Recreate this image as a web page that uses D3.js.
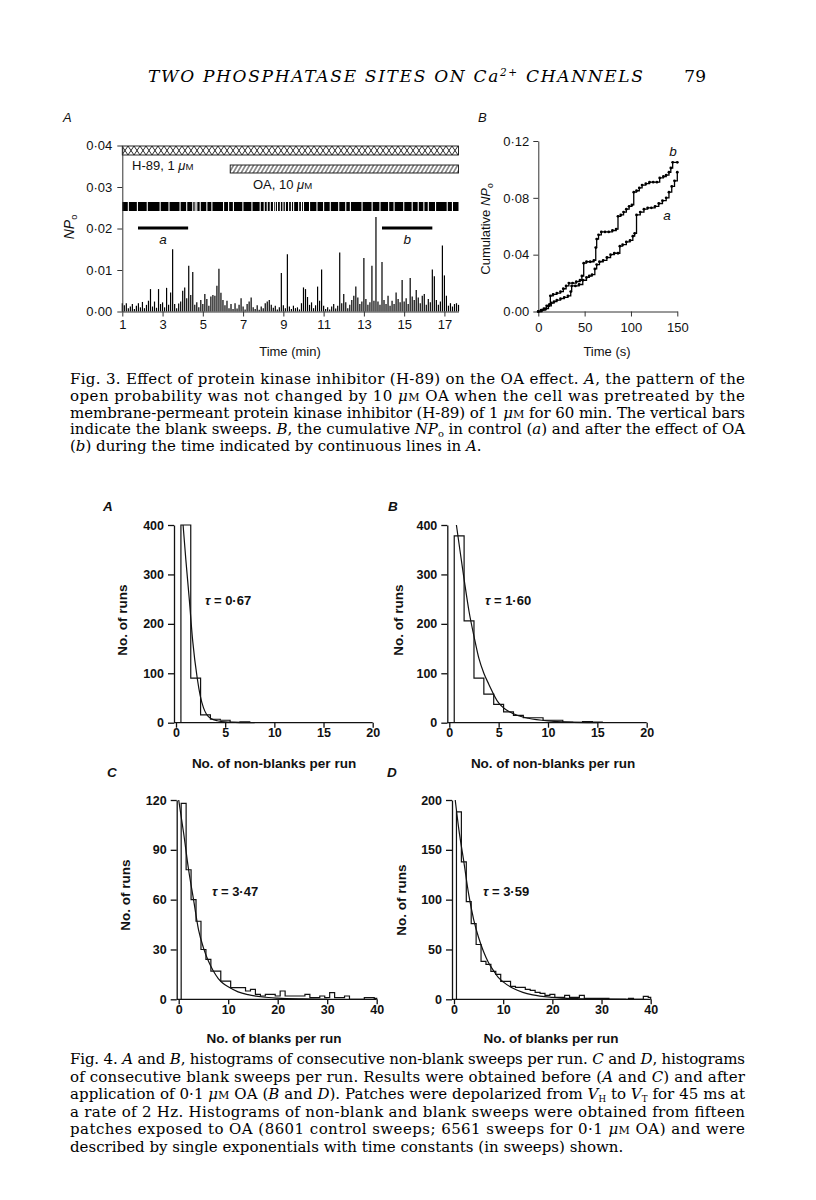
<!DOCTYPE html>
<html><head><meta charset="utf-8">
<script src="https://cdn.jsdelivr.net/npm/d3@7/dist/d3.min.js"></script>
<style>html,body{margin:0;padding:0;background:#fff}svg{display:block}</style>
</head><body>
<svg id="page" width="816" height="1200"></svg>
<script>
// ================= DATA =================
// Fig. 3A : NPo per 0.1-min bin (×0.001), starting at 1.0 min
const npoTimeStart = 1.0;
const npoTimeStep = 0.1;
const npoMilli = [
 2.0,1.5,2.0,0.8,1.2,1.8,0.6,1.4,2.0,1.0,
 2.3,0.8,1.6,2.6,5.4,1.2,2.4,0.9,5.4,1.8,
 2.2,1.0,5.7,1.6,4.6,15.0,1.8,0.8,1.9,2.4,
 5.0,5.8,3.2,11.0,4.0,9.5,1.6,2.2,1.0,2.8,
 1.8,4.2,3.0,1.4,3.6,4.0,3.8,6.2,10.3,4.5,
 2.8,1.5,2.6,0.8,1.8,0.6,2.0,0.7,1.6,3.2,
 1.2,0.5,1.8,2.4,3.4,1.0,0.6,1.5,0.4,1.2,
 0.8,2.0,2.4,2.8,1.6,0.9,1.4,0.5,1.0,9.3,
 1.5,0.8,13.8,1.2,0.6,1.4,0.8,1.0,0.5,2.0,
 5.8,5.4,3.5,1.6,2.2,0.8,1.5,6.0,2.6,10.1,
 1.4,0.6,1.0,0.5,1.2,1.8,0.7,1.4,14.2,2.0,
 4.2,2.2,0.8,1.6,2.8,3.8,6.0,3.4,1.8,2.4,
 12.9,3.0,1.6,2.2,11.0,2.6,22.8,2.4,1.6,11.9,
 2.8,1.8,3.8,1.4,2.6,1.8,4.6,3.0,2.2,7.6,
 2.4,3.2,1.8,8.1,3.6,2.8,5.2,3.4,2.0,3.8,
 4.2,1.6,3.0,2.2,10.1,8.5,2.8,1.6,2.4,15.9,
 8.7,3.8,1.4,2.0,1.2,1.8,2.0,1.6
];
// non-blank sweep gaps in the blank-sweep band (min)
const blankGapTimes = [1.30,1.75,2.24,2.88,3.32,3.87,4.20,4.50,4.62,4.70,4.87,5.20,5.45,
 6.03,6.28,6.52,6.99,7.44,7.85,8.05,8.20,8.35,8.51,8.60,8.71,8.85,8.98,9.10,9.26,9.40,9.51,
 9.76,9.90,10.0,10.30,10.67,11.0,11.33,11.75,12.10,12.33,12.91,13.41,13.80,14.23,14.50,
 14.98,15.40,15.70,15.98,16.20,16.56,17.14,17.40];
const h89Span = [1.0, 17.7];
const oaSpan = [6.36, 17.7];
const periodA = [1.78, 4.27];
const periodB = [13.9, 16.4];
const fig3aXTicks = [1,3,5,7,9,11,13,15,17];
const fig3aYTicks = [0,10,20,30,40];
const fig3aYLabels = ["0·00","0·01","0·02","0·03","0·04"];

// Fig. 3B : cumulative NPo
const cumTimeA = [0,4,8,11,14,17,20,24,28,32,35,36,40,44,48,52,55,58,61,63,66,70,74,78,82,86,88,91,95,99,102,104,106,110,114,118,122,126,130,134,138,141,144,147,150];
const cumNPoA  = [0,0.001,0.002,0.004,0.006,0.007,0.008,0.009,0.010,0.011,0.014,0.018,0.018,0.019,0.022,0.024,0.025,0.026,0.030,0.033,0.035,0.036,0.038,0.040,0.041,0.041,0.046,0.047,0.049,0.050,0.053,0.055,0.068,0.070,0.072,0.073,0.073,0.074,0.076,0.078,0.080,0.084,0.088,0.092,0.098];
const cumTimeB = [0,3,6,9,12,13,16,20,24,27,30,33,37,41,45,47,49,52,56,60,62,63,65,68,72,76,80,84,86,89,92,95,98,101,103,106,109,112,116,120,124,128,131,135,138,141,143,145,150];
const cumNPoB  = [0,0.001,0.002,0.004,0.005,0.011,0.012,0.013,0.014,0.016,0.018,0.020,0.020,0.021,0.022,0.025,0.034,0.035,0.035,0.036,0.045,0.051,0.054,0.056,0.056,0.056,0.057,0.058,0.067,0.068,0.070,0.072,0.074,0.075,0.084,0.085,0.087,0.089,0.090,0.091,0.091,0.091,0.094,0.095,0.096,0.098,0.101,0.105,0.105];
const fig3bXTicks = [0,50,100,150];
const fig3bYTicks = [0,0.04,0.08,0.12];
const fig3bYLabels = ["0·00","0·04","0·08","0·12"];

// Fig. 4 histograms (bins centred on 1,2,3,...)
const histA = [400,90,16,7,5,0.5,1.5];
const histB = [378,206,90,58,37,22,15,10,10,5,5,1,0.5,2,1];
const histC = [118,78,60,47,30,24,17,17,11,11,7,7,7,5,6,3,2,3,3,2,5,2,2,2,2,3,1,1,2,1,4,1,1,2,0,0,0,1,1,0.5];
const histD = [188,138,98,76,55,38,35,28,25,18,18,13,12,12,10,9,7,6,4,5,2,2,4,2,2,4,1,1,1,1,1,0,0,0,0,1,0,0,3,2];
// fitted single-exponential curves
const fitAX = [0.72,1.0,1.35,1.7,2.16,2.45,2.8,3.1,3.6,4.2,5.0,6.5,8.0];
const fitAY = [400,330,250,165,90,56,30,17,8,4,1.5,0.3,0];
const fitBX = [0.72,1.0,1.5,2.0,2.5,3.0,3.5,4.0,5.0,5.5,6.0,7.0,8.0,10,12,15];
const fitBY = [400,360,290,225,175,130,100,78,40,30,23,14,9,3.5,1,0];
const fitCX = [0,1,2,3,4,5,6,7,8,9,10,12,14,17,20,25,30];
const fitCY = [120,100,78,60,42,31,23,17,12.5,9.5,7.5,4.5,2.8,1.4,0.7,0.2,0];
const fitDX = [0.25,1,2,3,4,5,6,7,8,9,10,12,14,16,20,25,30,35];
const fitDY = [200,170,138,105,80,62,48,37,29,22,17.5,11,7,4.5,2,0.7,0.2,0];
const tauLabels = ["0·67","1·60","3·47","3·59"];
const ticks4XNonBlank = [0,5,10,15,20];
const ticks4XBlank = [0,10,20,30,40];
const ticks4YAB = [0,100,200,300,400];
const ticks4YC = [0,30,60,90,120];
const ticks4YD = [0,50,100,150,200];

// ================= DRAW =================
const svg = d3.select("#page");
svg.append("rect").attr("width",816).attr("height",1200).attr("fill","#fff");
const SANS = "'Liberation Sans', Arial, Helvetica, sans-serif";
const SERIF = "'DejaVu Serif', 'Liberation Serif', serif";
const INK = "#111";

function rich(parent, x, y, segs, o) {
  const size = o.size;
  const t = parent.append("text").attr("x", x).attr("y", y)
    .attr("font-family", o.family).attr("font-size", size).attr("fill", o.fill || INK);
  if (o.weight) t.attr("font-weight", o.weight);
  if (o.italic) t.attr("font-style", "italic");
  if (o.anchor) t.attr("text-anchor", o.anchor);
  if (o.transform) t.attr("transform", o.transform);
  let shift = 0;
  segs.forEach(s => {
    const style = typeof s === "string" ? "" : s[0];
    const txt = typeof s === "string" ? s : s[1];
    const ts = t.append("tspan").text(txt);
    let want = 0;
    if (style.indexOf("i") >= 0) ts.attr("font-style", "italic");
    if (style.indexOf("sc") >= 0) ts.attr("font-size", size * 0.74);
    if (style.indexOf("sub") >= 0) { want = size * 0.2; ts.attr("font-size", size * (style.indexOf("sc") >= 0 ? 0.58 : 0.66)); }
    if (style.indexOf("sup") >= 0) { want = -size * 0.38; ts.attr("font-size", size * 0.62); }
    if (want !== shift) { ts.attr("dy", want - shift); shift = want; }
  });
  if (o.len) t.attr("textLength", o.len).attr("lengthAdjust", "spacing");
  return t;
}

// ---------- Header ----------
rich(svg, 148, 82, ["TWO PHOSPHATASE SITES ON Ca", ["sup","2+"], " CHANNELS"],
  {family: SERIF, size: 17, italic: true, len: 495, fill: "#000"});
rich(svg, 706, 82, ["79"], {family: SERIF, size: 17, anchor: "end", fill: "#000"});

// ---------- Fig 3A ----------
const defs = svg.append("defs");
const pH = defs.append("pattern").attr("id","cross").attr("patternUnits","userSpaceOnUse")
  .attr("width",6).attr("height",9).attr("x",122).attr("y",146);
pH.append("path").attr("d","M0,0L6,9M6,0L0,9").attr("stroke",INK).attr("stroke-width",0.9);
const pO = defs.append("pattern").attr("id","diag").attr("patternUnits","userSpaceOnUse")
  .attr("width",4).attr("height",8).attr("patternTransform","skewX(-30)");
pO.append("line").attr("x1",1).attr("y1",0).attr("x2",1).attr("y2",8).attr("stroke",INK).attr("stroke-width",1);

const g3a = svg.append("g");
const xA = d3.scaleLinear().domain([1, 17.7]).range([122.3, 458.5]);
const yA = d3.scaleLinear().domain([0, 40]).range([311.5, 145.5]);

rich(g3a, 63, 122, ["A"], {family: SANS, size: 13, italic: true});

// drug bars
g3a.append("rect").attr("x", xA(h89Span[0])).attr("y", 146).attr("width", xA(h89Span[1]) - xA(h89Span[0])).attr("height", 9)
  .attr("fill","url(#cross)").attr("stroke",INK).attr("stroke-width",0.9);
rich(g3a, 132, 170, ["H-89, 1 ", ["i","μ"], ["sc","M"]], {family: SANS, size: 13});
g3a.append("rect").attr("x", xA(oaSpan[0])).attr("y", 165).attr("width", xA(oaSpan[1]) - xA(oaSpan[0])).attr("height", 8)
  .attr("fill","url(#diag)").attr("stroke",INK).attr("stroke-width",0.9);
rich(g3a, 253, 189, ["OA, 10 ", ["i","μ"], ["sc","M"]], {family: SANS, size: 13});

// blank sweeps band
g3a.append("rect").attr("x", xA(h89Span[0])).attr("y", 202).attr("width", xA(h89Span[1]) - xA(h89Span[0])).attr("height", 9).attr("fill", "#000");
g3a.selectAll("line.gap").data(blankGapTimes).join("line").attr("class","gap")
  .attr("x1", d => xA(d)).attr("x2", d => xA(d)).attr("y1", 202).attr("y2", 211)
  .attr("stroke","#fff").attr("stroke-width",1.1);

// analysis periods
[[periodA,"a"],[periodB,"b"]].forEach(([p, lab]) => {
  g3a.append("line").attr("x1", xA(p[0])).attr("x2", xA(p[1])).attr("y1", 228).attr("y2", 228)
    .attr("stroke", "#000").attr("stroke-width", 3);
  rich(g3a, (xA(p[0]) + xA(p[1])) / 2, 244, [lab], {family: SANS, size: 13.5, italic: true, anchor: "middle"});
});

// spikes
g3a.selectAll("line.spike").data(npoMilli).join("line").attr("class","spike")
  .attr("x1", (d,i) => xA(npoTimeStart + i * npoTimeStep)).attr("x2", (d,i) => xA(npoTimeStart + i * npoTimeStep))
  .attr("y1", yA(0)).attr("y2", d => yA(d)).attr("stroke", "#000").attr("stroke-width", 1.2);

// axes
const ax3aY = g3a.append("g").attr("transform", `translate(${xA(1)},0)`)
  .call(d3.axisLeft(yA).tickValues(fig3aYTicks).tickFormat((d,i) => fig3aYLabels[i]).tickSize(5).tickPadding(5).tickSizeOuter(0));
const ax3aX = g3a.append("g").attr("transform", `translate(0,${yA(0)})`)
  .call(d3.axisBottom(xA).tickValues(fig3aXTicks).tickSize(5).tickSizeOuter(0));
[ax3aY, ax3aX].forEach(a => {
  a.selectAll("path,line").attr("stroke", "#333").attr("stroke-width", 1);
  a.selectAll("text").attr("font-family", SANS).attr("font-size", 13).attr("fill", INK);
});
ax3aX.selectAll("text").attr("y", 17).attr("dy", null);
rich(g3a, 290, 356, ["Time (min)"], {family: SANS, size: 13, anchor: "middle"});
rich(g3a, 0, 0, [["i","NP"], ["sub","o"]], {family: SANS, size: 14, anchor: "middle", transform: "translate(74,227) rotate(-90)"});

// ---------- Fig 3B ----------
const g3b = svg.append("g");
const xB = d3.scaleLinear().domain([0,150]).range([538.3, 677.3]);
const yB = d3.scaleLinear().domain([0,0.12]).range([311.5, 141]);
rich(g3b, 478, 122, ["B"], {family: SANS, size: 13, italic: true});
const ax3bY = g3b.append("g").attr("transform", `translate(${xB(0)},0)`)
  .call(d3.axisLeft(yB).tickValues(fig3bYTicks).tickFormat((d,i) => fig3bYLabels[i]).tickSize(5).tickPadding(4).tickSizeOuter(0));
const ax3bX = g3b.append("g").attr("transform", `translate(0,${yB(0)})`)
  .call(d3.axisBottom(xB).tickValues(fig3bXTicks).tickSize(5).tickSizeOuter(0));
[ax3bY, ax3bX].forEach(a => {
  a.selectAll("path,line").attr("stroke", "#333").attr("stroke-width", 1);
  a.selectAll("text").attr("font-family", SANS).attr("font-size", 13).attr("fill", INK);
});
ax3bX.selectAll("text").attr("y", 20).attr("dy", null);
rich(g3b, 607, 356, ["Time (s)"], {family: SANS, size: 13, anchor: "middle"});
rich(g3b, 0, 0, ["Cumulative ", ["i","NP"], ["sub","o"]], {family: SANS, size: 13, anchor: "middle", transform: "translate(490,229) rotate(-90)"});
const stepLine = d3.line().curve(d3.curveStepAfter).x(d => xB(d[0])).y(d => yB(d[1]));
[[cumTimeA, cumNPoA],[cumTimeB, cumNPoB]].forEach(([ts, vs]) => {
  const pts = ts.map((t,i) => [t, vs[i]]);
  g3b.append("path").attr("d", stepLine(pts)).attr("fill","none").attr("stroke","#000").attr("stroke-width",1.3);
  g3b.selectAll(null).data(pts).join("circle").attr("cx", d => xB(d[0])).attr("cy", d => yB(d[1])).attr("r", 1.4).attr("fill", "#000");
});
rich(g3b, 673, 156, ["b"], {family: SANS, size: 13.5, italic: true, anchor: "middle"});
rich(g3b, 667, 220, ["a"], {family: SANS, size: 13.5, italic: true, anchor: "middle"});

// ---------- Fig 3 caption ----------
const fig3Caption = [
  ["Fig. 3. Effect of protein kinase inhibitor (H-89) on the OA effect. ", ["i","A"], ", the pattern of the"],
  ["open probability was not changed by 10 ", ["i","μ"], ["sc","M"], " OA when the cell was pretreated by the"],
  ["membrane-permeant protein kinase inhibitor (H-89) of 1 ", ["i","μ"], ["sc","M"], " for 60 min. The vertical bars"],
  ["indicate the blank sweeps. ", ["i","B"], ", the cumulative ", ["i","NP"], ["sub","o"], " in control (", ["i","a"], ") and after the effect of OA"],
  ["(", ["i","b"], ") during the time indicated by continuous lines in ", ["i","A"], "."]
];
fig3Caption.forEach((segs, i) => {
  rich(svg, 70, 384 + i * 16.8, segs, {family: SERIF, size: 15, fill: "#000", len: i < fig3Caption.length - 1 ? 675 : null});
});

// ---------- Fig 4 ----------
const panels = [
  {lab:"A", labX:103, labY:511, counts:histA, fx:fitAX, fy:fitAY, xMax:20, yMax:400, xTicks:ticks4XNonBlank, yTicks:ticks4YAB,
   xr:[176,372.7], yr:[722.7,525], tau:tauLabels[0], tauX:205, tauY:605, xTitle:"No. of non-blanks per run", xtX:274, xtY:768, ytX:127, ytY:620},
  {lab:"B", labX:388, labY:511, counts:histB, fx:fitBX, fy:fitBY, xMax:20, yMax:400, xTicks:ticks4XNonBlank, yTicks:ticks4YAB,
   xr:[449.3,646.7], yr:[722.7,525], tau:tauLabels[1], tauX:485, tauY:605, xTitle:"No. of non-blanks per run", xtX:553, xtY:768, ytX:403, ytY:620},
  {lab:"C", labX:107, labY:777, counts:histC, fx:fitCX, fy:fitCY, xMax:40, yMax:120, xTicks:ticks4XBlank, yTicks:ticks4YC,
   xr:[178.7,376.7], yr:[999.3,800], tau:tauLabels[2], tauX:212, tauY:896, xTitle:"No. of blanks per run", xtX:274, xtY:1043, ytX:130, ytY:895},
  {lab:"D", labX:387, labY:777, counts:histD, fx:fitDX, fy:fitDY, xMax:40, yMax:200, xTicks:ticks4XBlank, yTicks:ticks4YD,
   xr:[454,650.7], yr:[999.3,800], tau:tauLabels[3], tauX:483, tauY:896, xTitle:"No. of blanks per run", xtX:551, xtY:1043, ytX:406, ytY:900}
];
panels.forEach(p => {
  const g = svg.append("g");
  const x = d3.scaleLinear().domain([0, p.xMax]).range(p.xr);
  const y = d3.scaleLinear().domain([0, p.yMax]).range(p.yr);
  rich(g, p.labX, p.labY, [p.lab], {family: SANS, size: 13.5, italic: true, weight: "bold"});
  const axY = g.append("g").attr("transform", `translate(${x(0) - 2},0)`)
    .call(d3.axisLeft(y).tickValues(p.yTicks).tickSize(6).tickPadding(4).tickSizeOuter(0));
  const axX = g.append("g").attr("transform", `translate(0,${y(0)})`)
    .call(d3.axisBottom(x).tickValues(p.xTicks).tickSize(5).tickSizeOuter(0));
  [axY, axX].forEach(a => {
    a.selectAll("path,line").attr("stroke", INK).attr("stroke-width", 1.3);
    a.selectAll("text").attr("font-family", SANS).attr("font-size", 12.5).attr("font-weight", "bold").attr("fill", INK);
  });
  axX.select("path.domain").attr("d", `M${x(0) - 2},0H${x(p.xMax)}`);
  axX.selectAll("text").attr("y", 14.5).attr("dy", null);
  // histogram outline
  const pts = [[0.5, 0]];
  p.counts.forEach((c, i) => { const n = i + 1; pts.push([n - 0.5, c]); pts.push([Math.min(n + 0.5, p.xMax), c]); });
  pts.push([Math.min(p.counts.length + 0.5, p.xMax), 0]);
  g.append("path").attr("d", d3.line().x(d => x(d[0])).y(d => y(d[1]))(pts))
    .attr("fill","none").attr("stroke",INK).attr("stroke-width",1.2);
  // fitted exponential
  g.append("path").attr("d", d3.line().curve(d3.curveMonotoneX).x(d => x(d[0])).y(d => y(d[1]))(p.fx.map((v,i) => [v, p.fy[i]])))
    .attr("fill","none").attr("stroke",INK).attr("stroke-width",1.2);
  rich(g, p.tauX, p.tauY, [["i","τ"], " = " + p.tau], {family: SANS, size: 13, weight: "bold"});
  rich(g, p.xtX, p.xtY, [p.xTitle], {family: SANS, size: 13.5, weight: "bold", anchor: "middle"});
  rich(g, 0, 0, ["No. of runs"], {family: SANS, size: 13.5, weight: "bold", anchor: "middle", transform: `translate(${p.ytX},${p.ytY}) rotate(-90)`});
});

// ---------- Fig 4 caption ----------
const fig4Caption = [
  ["Fig. 4. ", ["i","A"], " and ", ["i","B"], ", histograms of consecutive non-blank sweeps per run. ", ["i","C"], " and ", ["i","D"], ", histograms"],
  ["of consecutive blank sweeps per run. Results were obtained before (", ["i","A"], " and ", ["i","C"], ") and after"],
  ["application of 0·1 ", ["i","μ"], ["sc","M"], " OA (", ["i","B"], " and ", ["i","D"], "). Patches were depolarized from ", ["i","V"], ["subsc","H"], " to ", ["i","V"], ["subsc","T"], " for 45 ms at"],
  ["a rate of 2 Hz. Histograms of non-blank and blank sweeps were obtained from fifteen"],
  ["patches exposed to OA (8601 control sweeps; 6561 sweeps for 0·1 ", ["i","μ"], ["sc","M"], " OA) and were"],
  ["described by single exponentials with time constants (in sweeps) shown."]
];
fig4Caption.forEach((segs, i) => {
  rich(svg, 70, 1064 + i * 17.6, segs, {family: SERIF, size: 15, fill: "#000", len: i < fig4Caption.length - 1 ? 675 : null});
});
</script>
</body></html>
